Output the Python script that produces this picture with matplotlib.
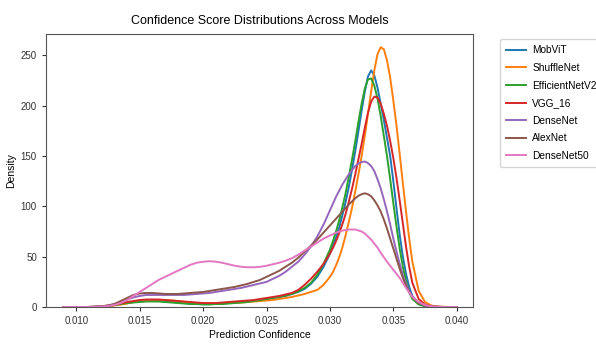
import matplotlib
matplotlib.use('Agg')
import matplotlib.pyplot as plt

# denser around the peaks so the tops stay rounded
conf_grid = [0.0090, 0.0095, 0.0100, 0.0105, 0.0110, 0.0115, 0.0120, 0.0125, 0.0130, 0.0135,
             0.0140, 0.0145, 0.0150, 0.0155, 0.0160, 0.0165, 0.0170, 0.0175, 0.0180, 0.0185,
             0.0190, 0.0195, 0.0200, 0.0205, 0.0210, 0.0215, 0.0220, 0.0225, 0.0230, 0.0235,
             0.0240, 0.0245, 0.0250, 0.0255, 0.0260, 0.0265, 0.0270, 0.0275, 0.0280, 0.0285,
             0.0290, 0.0295, 0.0300,
             0.03025, 0.0305, 0.03075, 0.0310, 0.03125, 0.0315, 0.03175, 0.0320, 0.03225, 0.0325,
             0.03275, 0.0330, 0.03325, 0.0335, 0.03375, 0.0340, 0.03425, 0.0345, 0.03475, 0.0350,
             0.03525, 0.0355, 0.03575, 0.0360, 0.03625, 0.0365,
             0.0370, 0.0375, 0.0380, 0.0385, 0.0390, 0.0395, 0.0400]

mobvit = [0, 0, 0, 0, 0.1, 0.2, 0.5, 1, 2, 3,
          4, 5, 5.5, 6, 6, 6, 5.5, 5, 4.5, 4,
          3.5, 3, 3, 3, 3, 3.5, 4, 4.5, 5, 5.5,
          6, 7, 8, 9, 10, 11, 13, 15, 18, 23,
          30, 40, 53,
          61, 70, 80, 92, 105, 120, 137, 155, 175, 195,
          214, 229, 235, 230, 218, 202, 186, 168, 150, 125,
          98, 72, 50, 33, 20, 11,
          3.5, 1, 0.4, 0.1, 0, 0, 0]

shufflenet = [0, 0, 0, 0, 0.1, 0.2, 0.5, 1, 1.5, 2.5,
              3.5, 5, 6, 6.5, 7, 7, 7, 6.5, 6, 5,
              4.5, 4, 3.5, 3.5, 3.5, 3.5, 4, 4, 4.5, 5,
              5.5, 6, 6.5, 7, 8, 9, 10, 11.5, 13, 15,
              17, 22, 30,
              35, 42, 50, 60, 72, 85, 99, 115, 132, 150,
              170, 192, 214, 235, 251, 258, 256, 245, 228, 205,
              180, 152, 123, 95, 68, 45,
              16, 5, 1.5, 0.5, 0.2, 0, 0]

efficientnetv2 = [0, 0, 0, 0, 0.1, 0.2, 0.5, 1, 2, 3,
                  4, 4.5, 5, 5.5, 5.5, 5.5, 5, 4.5, 4, 3.5,
                  3, 3, 2.5, 2.5, 3, 3, 3.5, 4, 4.5, 5,
                  6, 7, 8, 9, 10, 11.5, 13, 15.5, 19, 24,
                  32, 43, 57,
                  66, 76, 87, 100, 114, 130, 147, 165, 184, 202,
                  217, 226, 227, 220, 207, 190, 170, 150, 127, 103,
                  80, 58, 40, 26, 15, 8,
                  2.5, 0.8, 0.3, 0.1, 0, 0, 0]

vgg16 = [0, 0, 0, 0, 0.1, 0.3, 0.7, 1.5, 2.5, 3.5,
         5, 6, 7, 7.5, 7.5, 7.5, 7, 6.5, 6, 5.5,
         5, 4.5, 4, 4, 4, 4.5, 5, 5.5, 6, 6.5,
         7, 8, 9, 10, 11, 12.5, 14, 17, 22, 28,
         35, 43, 53,
         59, 66, 74, 83, 93, 105, 118, 132, 147, 162,
         178, 193, 204, 209, 208, 202, 192, 180, 165, 148,
         128, 106, 83, 60, 40, 24,
         8, 2.5, 0.8, 0.3, 0.1, 0, 0]

densenet = [0, 0, 0, 0, 0.1, 0.3, 0.7, 1.5, 3, 5,
            7.5, 9.5, 11, 12, 12, 12, 12, 12, 12, 12,
            12.5, 13, 13.5, 14, 15, 16, 17, 18, 19, 20.5,
            22, 23.5, 25, 28, 31, 35, 40, 45, 52, 60,
            70, 82, 96,
            103, 110, 116, 122, 127, 132, 136, 140, 142.5, 144,
            144.5, 143, 140, 135, 127, 118, 107, 95, 82, 68,
            55, 43, 32, 23, 16, 10,
            4, 1.5, 0.5, 0.2, 0, 0, 0]

alexnet = [0, 0, 0, 0, 0.1, 0.3, 0.7, 1.5, 3, 6,
           9, 12, 13.5, 14, 14, 13.5, 13, 13, 13, 13.5,
           14, 14.5, 15, 16, 17, 18, 19, 20, 21.5, 23,
           25, 27, 30, 33, 36, 40, 44, 49, 55, 61,
           67, 74, 81,
           84.5, 88, 91.5, 95, 98.5, 102, 105, 108, 110.5, 112,
           113, 112, 110, 106, 101, 95, 87, 78, 68, 58,
           48, 38, 29, 21, 15, 10,
           4, 1.5, 0.5, 0.2, 0, 0, 0]

densenet50 = [0, 0, 0, 0, 0.1, 0.2, 0.5, 1, 2, 4,
              7, 11, 15, 19, 23, 27, 30, 33, 36, 39,
              42, 44, 45, 45.5, 45, 44, 42.5, 41, 40, 39.5,
              39.5, 40, 41, 42.5, 44, 46, 48.5, 52, 56, 60,
              64, 68, 71,
              72.5, 74, 75, 76, 76.5, 77, 77, 77, 76, 75,
              73, 70, 67, 63, 59, 54, 49.5, 45, 41, 37,
              33, 29, 24, 19, 14.5, 10,
              5, 2, 0.7, 0.2, 0, 0, 0]

model_names = ["MobViT", "ShuffleNet", "EfficientNetV2", "VGG_16", "DenseNet", "AlexNet", "DenseNet50"]
model_curves = [mobvit, shufflenet, efficientnetv2, vgg16, densenet, alexnet, densenet50]
x_ticks = [0.010, 0.015, 0.020, 0.025, 0.030, 0.035, 0.040]
y_ticks = [0, 50, 100, 150, 200, 250]

plt.rcParams['font.family'] = ['Liberation Sans', 'DejaVu Sans']

fig = plt.figure(figsize=(5.96, 3.45), dpi=100)
ax = fig.add_axes([0.077, 0.110, 0.717, 0.791])

colors = plt.rcParams['axes.prop_cycle'].by_key()['color']
for name, curve, c in zip(model_names, model_curves, colors):
    ax.plot(conf_grid, curve, color=c, label=name, linewidth=1.4)

ax.set_xlim(0.0076, 0.0413)
ax.set_ylim(0, 271)
ax.set_xticks(x_ticks)
ax.set_xticklabels(["{:.3f}".format(t) for t in x_ticks])
ax.set_yticks(y_ticks)
ax.tick_params(labelsize=7, length=3, width=0.8, colors='#333333')
for sp in ax.spines.values():
    sp.set_color('#555555')
    sp.set_linewidth(0.8)

ax.set_title("Confidence Score Distributions Across Models", fontsize=9, pad=7)
ax.set_xlabel("Prediction Confidence", fontsize=7.5, labelpad=3)
ax.set_ylabel("Density", fontsize=7.5, labelpad=3)
ax.legend(bbox_to_anchor=(1.05, 1), loc='upper left', fontsize=7.3, labelspacing=0.75,
          handlelength=2.0, handletextpad=0.6, borderpad=0.6)

fig.savefig("out.png", dpi=100)
plt.close(fig)
